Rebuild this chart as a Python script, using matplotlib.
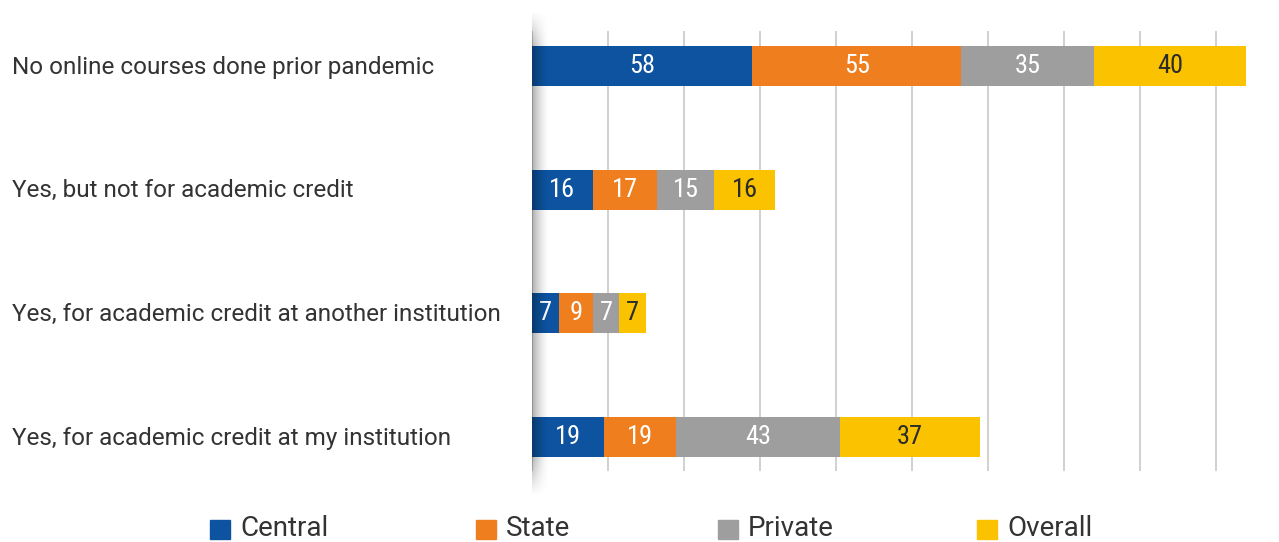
import matplotlib.pyplot as plt
from matplotlib import font_manager
from matplotlib.patches import Rectangle
import matplotlib.transforms as mtransforms
import numpy as np

categories = [
    'No online courses done prior pandemic',
    'Yes, but not for academic credit',
    'Yes, for academic credit at another institution',
    'Yes, for academic credit at my institution',
]
series = ['Central', 'State', 'Private', 'Overall']
central = [58, 16, 7, 19]
state = [55, 17, 9, 19]
private = [35, 15, 7, 43]
overall = [40, 16, 7, 37]

colors = ['#0d53a0', '#ef7f1e', '#9d9e9d', '#fbc200']
value_colors = ['white', 'white', 'white', '#2b2b2b']
text_color = '#333333'

installed = {f.name for f in font_manager.fontManager.ttflist}
cond_font = 'Roboto Condensed' if 'Roboto Condensed' in installed else 'Roboto'
plt.rcParams['font.family'] = ['Roboto', 'DejaVu Sans']

W, H = 1279, 542
fig = plt.figure(figsize=(W / 100, H / 100), dpi=100)
ax = fig.add_axes([532 / W, 71 / H, 1 - 532 / W, 440 / H])

y = np.arange(len(categories))
left = np.zeros(len(categories))
for vals, c, tc in zip([central, state, private, overall], colors, value_colors):
    vals = np.array(vals, dtype=float)
    bars = ax.barh(y, vals, left=left, height=0.323, color=c, zorder=2)
    for b, v in zip(bars, vals):
        ax.text(b.get_x() + b.get_width() / 2, b.get_y() + b.get_height() / 2,
                f'{v:.0f}', ha='center', va='center', color=tc,
                fontsize=19, family=cond_font, zorder=3)
    left += vals

ax.set_ylim(3 + 34 / 123.7, -35 / 123.7)
ax.set_xlim(0, (W - 532) / 3.8)
ax.set_xticks(range(0, 181, 20))
ax.grid(axis='x', color='#d0d0d0', linewidth=1.4, zorder=0)
ax.tick_params(length=0, labelbottom=False, labelleft=False)
for s in ax.spines.values():
    s.set_visible(False)

# category names, left aligned near the figure edge
trans = mtransforms.blended_transform_factory(fig.transFigure, ax.transData)
for yi, name in zip(y, categories):
    ax.text(12 / W, yi + 0.01, name, transform=trans, ha='left', va='center',
            fontsize=17.5, color=text_color)

# soft shadow along the value axis
sh = fig.add_axes([532 / W, 45 / H, 18 / W, 487 / H], zorder=5)
sh.axis('off')
gx = np.linspace(0, 1, 60)
gy = np.linspace(0, 1, 200)
fade_x = (1 - gx) ** 1.6
fade_y = np.clip(np.minimum(gy, 1 - gy) / 0.08, 0, 1)
alpha = 0.32 * np.outer(fade_y, fade_x)
rgba = np.zeros((200, 60, 4))
rgba[..., 3] = alpha
sh.imshow(rgba, aspect='auto', extent=[0, 1, 0, 1], interpolation='bilinear')
sh.set_xlim(0, 1)
sh.set_ylim(0, 1)

# legend row along the bottom
leg_x = [210, 476, 718, 977]
for x0, name, c in zip(leg_x, series, colors):
    fig.patches.append(Rectangle((x0 / W, 3 / H), 20 / W, 19 / H,
                                 transform=fig.transFigure, color=c))
    fig.text((x0 + 30) / W, 13 / H, name, ha='left', va='center',
             fontsize=20, color=text_color)

fig.savefig('out.png', dpi=100)
